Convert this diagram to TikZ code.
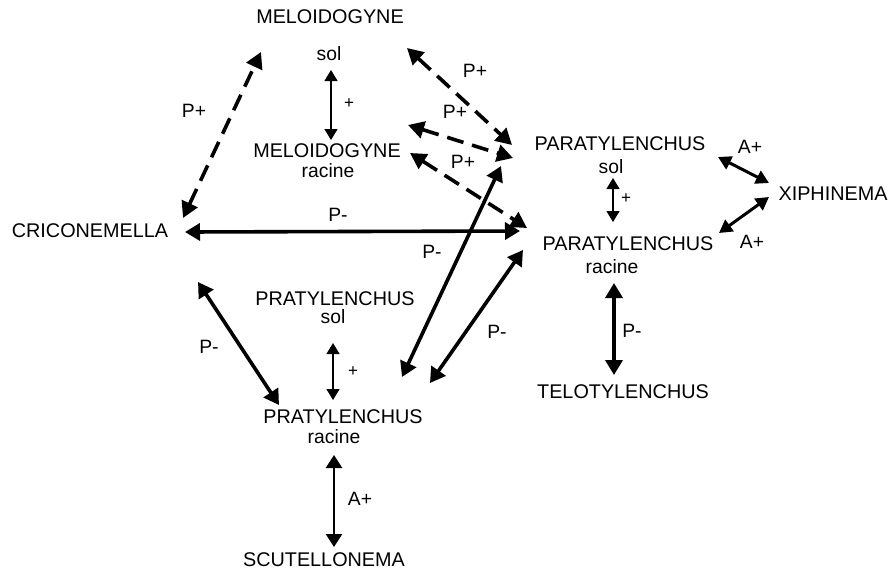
\documentclass[tikz,border=0pt]{standalone}
\usepackage{fontspec}
\setmainfont{Liberation Sans}
\usetikzlibrary{arrows.meta}
\begin{document}
\begin{tikzpicture}[x=1pt,y=-1pt,
  lbl/.style={anchor=base,inner sep=0pt,font=\fontsize{19.8}{22}\selectfont},
  sm/.style={anchor=base,inner sep=0pt,font=\fontsize{19.3}{22}\selectfont},
  tiny/.style={anchor=base,inner sep=0pt,font=\fontsize{17}{19}\selectfont},
  thickarr/.style={line width=3.6pt,{Triangle[length=15pt,width=17pt]}-{Triangle[length=15pt,width=17pt]}},
  medarr/.style={line width=2.6pt,{Triangle[length=13pt,width=16pt]}-{Triangle[length=13pt,width=16pt]}},
  xiarr/.style={line width=3pt,{Triangle[length=13pt,width=14pt]}-{Triangle[length=13pt,width=14pt]}},
  thinarr/.style={line width=1.3pt,{Triangle[length=11pt,width=13pt]}-{Triangle[length=11pt,width=13pt]}},
  dasharr/.style={line width=3.6pt,dash pattern=on 17pt off 9pt,{Triangle[length=16pt,width=17pt]}-{Triangle[length=16pt,width=17pt]}}]
\useasboundingbox (0,0) rectangle (891,571);
% texts
\node[lbl] (melo) at (330,23) {MELOIDOGYNE};
\node[sm] (melosol) at (329,60) {sol};
\node[tiny] (meloplus) at (349,108) {+};
\node[lbl] (melor) at (327,157) {MELOIDOGYNE};
\node[sm] (meloracine) at (328,177) {racine};
\node[lbl] (paras) at (620,150) {PARATYLENCHUS};
\node[sm] (parasol) at (611,173) {sol};
\node[tiny] (paraplus) at (626,203) {+};
\node[lbl] (parar) at (628,250) {PARATYLENCHUS};
\node[sm] (pararacine) at (612,273) {racine};
\node[lbl] (xiph) at (833,200) {XIPHINEMA};
\node[sm] (aa1) at (750,153) {A+};
\node[sm] (aa2) at (752,248) {A+};
\node[lbl] (crico) at (90,237) {CRICONEMELLA};
\node[sm] (pm1) at (338,221) {P-};
\node[sm] (pm2) at (432,258) {P-};
\node[sm] (pm3) at (209,353) {P-};
\node[sm] (pm4) at (497,338) {P-};
\node[sm] (pm5) at (632,337) {P-};
\node[sm] (pp1) at (194,117) {P+};
\node[sm] (pp2) at (475,77) {P+};
\node[sm] (pp3) at (455,118) {P+};
\node[sm] (pp4) at (463,168) {P+};
\node[lbl] (pras) at (335,305) {PRATYLENCHUS};
\node[sm] (prasol) at (333,323) {sol};
\node[tiny] (praplus) at (353,376) {+};
\node[lbl] (prar) at (343,423) {PRATYLENCHUS};
\node[sm] (praracine) at (334,443) {racine};
\node[sm] (aa3) at (360,505) {A+};
\node[lbl] (scut) at (324,566) {SCUTELLONEMA};
\node[lbl] (telo) at (623,398) {TELOTYLENCHUS};
% connector end points
\coordinate (m1) at (331,70);   \coordinate (m2) at (331,140);
\coordinate (q1) at (613,178);  \coordinate (q2) at (613,222);
\coordinate (r1) at (333,343);  \coordinate (r2) at (333,400);
\coordinate (c1) at (185,232);  \coordinate (c2) at (520,231);
\coordinate (c3) at (198,282);  \coordinate (c4) at (279,405);
\coordinate (l1) at (402,377);  \coordinate (l2) at (501,166);
\coordinate (l3) at (430,383);  \coordinate (l4) at (523,250);
\coordinate (t1) at (614,283);  \coordinate (t2) at (614,375);
\coordinate (s1) at (334,455);  \coordinate (s2) at (334,547);
\coordinate (x1) at (718,157);  \coordinate (x2) at (769,183);
\coordinate (x3) at (719,233);  \coordinate (x4) at (769,197);
\coordinate (d1) at (183,218);  \coordinate (d2) at (261,52);
\coordinate (d3) at (407,48);   \coordinate (d4) at (512,145);
\coordinate (d5) at (408,125);  \coordinate (d6) at (513,158);
\coordinate (d7) at (410,153);  \coordinate (d8) at (527,228);
% connectors
\draw[thinarr] (m1) -- (m2);
\draw[thinarr] (q1) -- (q2);
\draw[thinarr] (r1) -- (r2);
\draw[thickarr] (c1) -- (c2);
\draw[thickarr] (c3) -- (c4);
\draw[thickarr] (l1) -- (l2);
\draw[thickarr] (l3) -- (l4);
\draw[thickarr] (t1) -- (t2);
\draw[medarr] (s1) -- (s2);
\draw[xiarr] (x1) -- (x2);
\draw[xiarr] (x3) -- (x4);
\draw[dasharr] (d1) -- (d2);
\draw[dasharr] (d3) -- (d4);
\draw[dasharr] (d5) -- (d6);
\draw[dasharr] (d7) -- (d8);
\end{tikzpicture}
\end{document}
